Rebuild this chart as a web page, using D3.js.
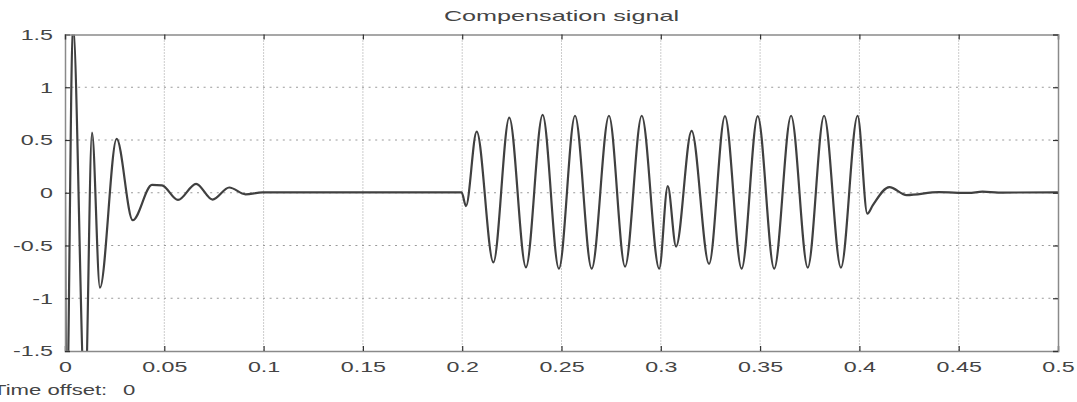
<!DOCTYPE html>
<html lang="en">
<head>
<meta charset="UTF-8">
<title>Compensation signal</title>
<script src="https://cdn.jsdelivr.net/npm/d3@7"></script>
<style>
    body { margin: 0; background: #fff; }
    text { font-family: "Liberation Sans", Arial, sans-serif; fill: #444; }
    .axis path, .axis line { stroke: #8a8a8a; stroke-width: 1.5; }
    .axis .tick line { stroke: #333; stroke-width: 1.2; }
    .grid line { stroke: #9a9a9a; stroke-width: 1; }
</style>
</head>
<body>
<script>
    var w = 1077;
    var h = 402;

    // extrema of the trace (time in s, value)
    var times = [
        0, 0.0008, 0.004, 0.0101, 0.0136, 0.0176, 0.026, 0.0341, 0.0438, 0.0488,
        0.0569, 0.066, 0.0743, 0.0827, 0.0909, 0.0995, 0.12, 0.15, 0.18, 0.1997,
        0.2019, 0.2073, 0.2157, 0.2237, 0.2321, 0.2405, 0.2487, 0.2568, 0.2652, 0.2739,
        0.282, 0.2904, 0.2992, 0.3035, 0.3077, 0.3155, 0.3243, 0.3323, 0.3407, 0.3488,
        0.3571, 0.3656, 0.374, 0.3822, 0.3907, 0.3991, 0.404, 0.4067, 0.4151, 0.4238,
        0.44, 0.455, 0.462, 0.47, 0.5
    ];
    var values = [
        0, -2.2, 1.6, -2.0, 0.57, -0.9, 0.51, -0.26, 0.075, 0.07,
        -0.068, 0.085, -0.065, 0.05, -0.015, 0.004, 0.003, 0.004, 0.003, 0.004,
        -0.126, 0.58, -0.66, 0.713, -0.707, 0.739, -0.72, 0.73, -0.72, 0.73,
        -0.70, 0.73, -0.72, 0.063, -0.51, 0.587, -0.675, 0.727, -0.72, 0.727,
        -0.72, 0.73, -0.71, 0.73, -0.71, 0.73, -0.198, -0.12, 0.054, -0.022,
        0.006, -0.002, 0.01, 0.002, 0.004
    ];

    var xTicks = [0, 0.05, 0.1, 0.15, 0.2, 0.25, 0.3, 0.35, 0.4, 0.45, 0.5];
    var yTicks = [-1.5, -1, -0.5, 0, 0.5, 1, 1.5];

    var plotLeft = 65, plotRight = 1058, plotTop = 34.5, plotBottom = 351;
    var stretch = 1.55;

    var xScale = d3.scaleLinear().domain([0, 0.5]).range([plotLeft, plotRight]);
    var yScale = d3.scaleLinear().domain([-1.5, 1.5]).range([plotBottom, plotTop]);

    var svg = d3.select("body")
        .append("svg")
        .attr("width", w)
        .attr("height", h);

    svg.append("defs").append("clipPath")
        .attr("id", "plot")
        .append("rect")
        .attr("x", plotLeft)
        .attr("y", plotTop)
        .attr("width", plotRight - plotLeft)
        .attr("height", plotBottom - plotTop);

    // dotted grid
    var grid = svg.append("g").attr("class", "grid");
    grid.selectAll("line.v")
        .data(xTicks.slice(1, -1))
        .enter()
        .append("line")
        .attr("class", "v")
        .attr("x1", function (d) { return xScale(d); })
        .attr("x2", function (d) { return xScale(d); })
        .attr("y1", plotTop)
        .attr("y2", plotBottom)
        .attr("stroke-dasharray", "1,2");
    grid.selectAll("line.h")
        .data(yTicks.slice(1, -1))
        .enter()
        .append("line")
        .attr("class", "h")
        .attr("x1", plotLeft)
        .attr("x2", plotRight)
        .attr("y1", function (d) { return yScale(d); })
        .attr("y2", function (d) { return yScale(d); })
        .attr("stroke-width", 1.5)
        .attr("stroke-dasharray", "2,4.6");

    // trace
    var line = d3.line()
        .x(function (d) { return xScale(d[0]); })
        .y(function (d) { return yScale(d[1]); })
        .curve(d3.curveMonotoneX);

    svg.append("path")
        .datum(d3.zip(times, values))
        .attr("clip-path", "url(#plot)")
        .attr("fill", "none")
        .attr("stroke", "#404040")
        .attr("stroke-width", 2.2)
        .attr("stroke-linejoin", "round")
        .attr("d", line);

    // axes
    var xAxis = d3.axisBottom(xScale).tickValues(xTicks).tickSize(-5).tickPadding(10)
        .tickFormat(function (d) { return String(d); });
    var yAxis = d3.axisLeft(yScale).tickValues(yTicks).tickSize(-5)
        .tickFormat(function (d) { return String(d); });
    var xTop = d3.axisTop(xScale).tickValues(xTicks).tickSize(-5).tickFormat("");
    var yRight = d3.axisRight(yScale).tickValues(yTicks).tickSize(-5).tickFormat("");

    var gx = svg.append("g")
        .attr("class", "axis")
        .attr("transform", "translate(0," + plotBottom + ")")
        .call(xAxis);
    gx.selectAll("text")
        .attr("font-size", "15px")
        .attr("transform", "scale(" + stretch + ",1)");

    var gy = svg.append("g")
        .attr("class", "axis")
        .attr("transform", "translate(" + plotLeft + ",0)")
        .call(yAxis);
    gy.selectAll("text")
        .attr("font-size", "15px")
        .attr("x", -12 / stretch)
        .attr("transform", "scale(" + stretch + ",1)");

    svg.append("g")
        .attr("class", "axis")
        .attr("transform", "translate(0," + plotTop + ")")
        .call(xTop);
    svg.append("g")
        .attr("class", "axis")
        .attr("transform", "translate(" + plotRight + ",0)")
        .call(yRight);

    // title
    svg.append("text")
        .attr("transform", "translate(" + ((plotLeft + plotRight) / 2) + ",21) scale(1.68,1)")
        .attr("text-anchor", "middle")
        .attr("font-size", "15px")
        .text("Compensation signal");

    // time offset note (its first letter is cut by the left edge, as in the picture)
    svg.append("text")
        .attr("transform", "translate(-7,395) scale(1.58,1)")
        .attr("font-size", "14px")
        .text("Time offset:");
    svg.append("text")
        .attr("transform", "translate(123,395) scale(1.58,1)")
        .attr("font-size", "14px")
        .text("0");
</script>
</body>
</html>
